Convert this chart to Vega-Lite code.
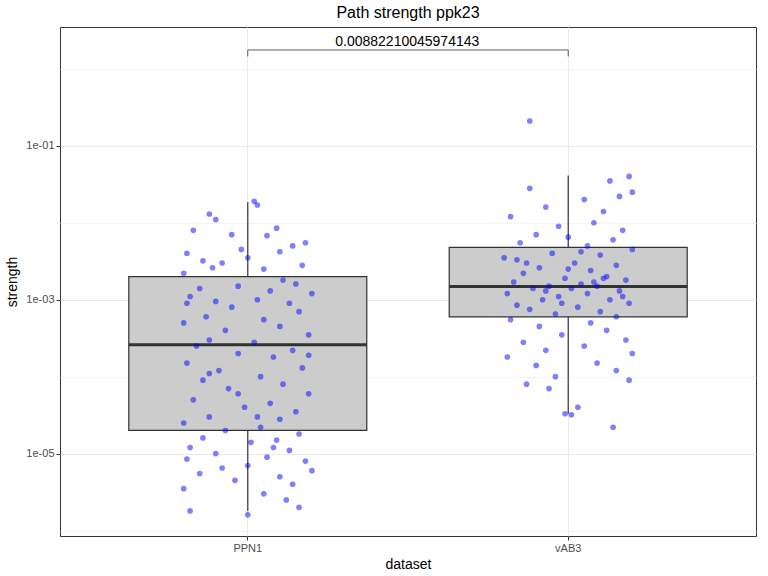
{
  "$schema": "https://vega.github.io/schema/vega-lite/v6.json",
  "width": 768,
  "height": 576,
  "autosize": {"type": "fit", "contains": "padding"},
  "background": "white",
  "padding": {"left": 5, "right": 12, "top": 5, "bottom": 5},
  "title": {"text": "Path strength ppk23", "fontSize": 16, "font": "Liberation Sans", "fontWeight": "normal", "color": "black", "anchor": "middle", "offset": 6},
  "config": {
    "font": "Liberation Sans",
    "view": {"stroke": "#333333", "strokeWidth": 1},
    "axis": {"labelColor": "#4d4d4d", "labelFontSize": 11, "titleFontSize": 14, "titleFontWeight": "normal", "titleColor": "black", "tickColor": "#333333", "tickSize": 4, "domain": false, "gridColor": "#ebebeb"}
  },
  "datasets": {
    "stats": [
      {"dataset": "PPN1", "lo": 0.0000018, "q1": 0.00002, "med": 0.00026, "q3": 0.002, "hi": 0.0186},
      {"dataset": "vAB3", "lo": 0.000033, "q1": 0.0006, "med": 0.00148, "q3": 0.0048, "hi": 0.041}
    ],
    "sig": [
      {"dataset": "PPN1", "to": "vAB3", "ytop": 1.76, "ylo": 1.45, "label": "0.00882210045974143"},
      {"dataset": "vAB3", "to": "vAB3", "ytop": 1.76, "ylo": 1.45, "label": ""}
    ],
    "pts": [
      {"dataset":"PPN1","strength":0.019,"jitter":0.02},{"dataset":"PPN1","strength":0.017,"jitter":0.03},{"dataset":"PPN1","strength":0.013,"jitter":-0.12},{"dataset":"PPN1","strength":0.011,"jitter":-0.1},{"dataset":"PPN1","strength":0.008,"jitter":-0.17},{"dataset":"PPN1","strength":0.0085,"jitter":0.09},{"dataset":"PPN1","strength":0.007,"jitter":-0.05},{"dataset":"PPN1","strength":0.0068,"jitter":0.06},{"dataset":"PPN1","strength":0.0055,"jitter":0.18},{"dataset":"PPN1","strength":0.005,"jitter":0.14},{"dataset":"PPN1","strength":0.0045,"jitter":-0.02},{"dataset":"PPN1","strength":0.004,"jitter":-0.19},{"dataset":"PPN1","strength":0.0042,"jitter":0.1},{"dataset":"PPN1","strength":0.0035,"jitter":0.0},{"dataset":"PPN1","strength":0.003,"jitter":-0.08},{"dataset":"PPN1","strength":0.0028,"jitter":0.17},{"dataset":"PPN1","strength":0.0032,"jitter":-0.14},{"dataset":"PPN1","strength":0.0025,"jitter":0.05},{"dataset":"PPN1","strength":0.0022,"jitter":-0.2},{"dataset":"PPN1","strength":0.0018,"jitter":0.11},{"dataset":"PPN1","strength":0.0015,"jitter":-0.03},{"dataset":"PPN1","strength":0.0014,"jitter":-0.15},{"dataset":"PPN1","strength":0.0013,"jitter":0.07},{"dataset":"PPN1","strength":0.0012,"jitter":0.2},{"dataset":"PPN1","strength":0.0011,"jitter":-0.18},{"dataset":"PPN1","strength":0.001,"jitter":0.03},{"dataset":"PPN1","strength":0.00095,"jitter":-0.1},{"dataset":"PPN1","strength":0.0009,"jitter":0.13},{"dataset":"PPN1","strength":0.0008,"jitter":-0.05},{"dataset":"PPN1","strength":0.0007,"jitter":0.16},{"dataset":"PPN1","strength":0.0006,"jitter":-0.13},{"dataset":"PPN1","strength":0.00055,"jitter":0.05},{"dataset":"PPN1","strength":0.0005,"jitter":-0.2},{"dataset":"PPN1","strength":0.00045,"jitter":0.1},{"dataset":"PPN1","strength":0.0004,"jitter":-0.07},{"dataset":"PPN1","strength":0.00035,"jitter":0.19},{"dataset":"PPN1","strength":0.0003,"jitter":-0.12},{"dataset":"PPN1","strength":0.00028,"jitter":0.02},{"dataset":"PPN1","strength":0.00025,"jitter":-0.16},{"dataset":"PPN1","strength":0.00022,"jitter":0.14},{"dataset":"PPN1","strength":0.0002,"jitter":-0.03},{"dataset":"PPN1","strength":0.00018,"jitter":0.08},{"dataset":"PPN1","strength":0.00015,"jitter":-0.19},{"dataset":"PPN1","strength":0.00013,"jitter":0.17},{"dataset":"PPN1","strength":0.00012,"jitter":-0.09},{"dataset":"PPN1","strength":0.0001,"jitter":0.04},{"dataset":"PPN1","strength":0.00009,"jitter":-0.14},{"dataset":"PPN1","strength":0.00008,"jitter":0.11},{"dataset":"PPN1","strength":0.00007,"jitter":-0.06},{"dataset":"PPN1","strength":0.00006,"jitter":0.19},{"dataset":"PPN1","strength":0.00005,"jitter":-0.17},{"dataset":"PPN1","strength":0.000045,"jitter":0.07},{"dataset":"PPN1","strength":0.00004,"jitter":-0.01},{"dataset":"PPN1","strength":0.000035,"jitter":0.15},{"dataset":"PPN1","strength":0.00003,"jitter":-0.12},{"dataset":"PPN1","strength":0.000028,"jitter":0.1},{"dataset":"PPN1","strength":0.000025,"jitter":-0.2},{"dataset":"PPN1","strength":0.000022,"jitter":0.04},{"dataset":"PPN1","strength":0.00002,"jitter":-0.07},{"dataset":"PPN1","strength":0.000018,"jitter":0.16},{"dataset":"PPN1","strength":0.000016,"jitter":-0.14},{"dataset":"PPN1","strength":0.000015,"jitter":0.09},{"dataset":"PPN1","strength":0.000014,"jitter":0.01},{"dataset":"PPN1","strength":0.000012,"jitter":-0.18},{"dataset":"PPN1","strength":0.000011,"jitter":0.13},{"dataset":"PPN1","strength":0.00001,"jitter":-0.1},{"dataset":"PPN1","strength":0.000009,"jitter":0.06},{"dataset":"PPN1","strength":0.0000085,"jitter":-0.19},{"dataset":"PPN1","strength":0.000008,"jitter":0.18},{"dataset":"PPN1","strength":0.000007,"jitter":0.0},{"dataset":"PPN1","strength":0.0000065,"jitter":-0.08},{"dataset":"PPN1","strength":0.000006,"jitter":0.2},{"dataset":"PPN1","strength":0.0000055,"jitter":-0.15},{"dataset":"PPN1","strength":0.000005,"jitter":0.1},{"dataset":"PPN1","strength":0.0000045,"jitter":-0.04},{"dataset":"PPN1","strength":0.000004,"jitter":0.14},{"dataset":"PPN1","strength":0.0000035,"jitter":-0.2},{"dataset":"PPN1","strength":0.000003,"jitter":0.05},{"dataset":"PPN1","strength":0.0000025,"jitter":0.12},{"dataset":"PPN1","strength":0.000002,"jitter":0.16},{"dataset":"PPN1","strength":0.0000018,"jitter":-0.18},{"dataset":"PPN1","strength":0.0000016,"jitter":0.0},{"dataset":"PPN1","strength":0.0016,"jitter":0.15},{"dataset":"PPN1","strength":0.0009,"jitter":-0.19},{"dataset":"PPN1","strength":0.00019,"jitter":0.19},{"dataset":"PPN1","strength":0.00006,"jitter":-0.03},{"dataset":"PPN1","strength":0.00003,"jitter":0.03},{"dataset":"PPN1","strength":0.000012,"jitter":0.08},{"dataset":"PPN1","strength":0.0026,"jitter":-0.11},{"dataset":"PPN1","strength":0.00011,"jitter":-0.12},
      {"dataset":"vAB3","strength":0.21,"jitter":-0.12},{"dataset":"vAB3","strength":0.04,"jitter":0.19},{"dataset":"vAB3","strength":0.035,"jitter":0.13},{"dataset":"vAB3","strength":0.028,"jitter":-0.12},{"dataset":"vAB3","strength":0.025,"jitter":0.2},{"dataset":"vAB3","strength":0.022,"jitter":0.16},{"dataset":"vAB3","strength":0.02,"jitter":0.05},{"dataset":"vAB3","strength":0.016,"jitter":-0.07},{"dataset":"vAB3","strength":0.014,"jitter":0.11},{"dataset":"vAB3","strength":0.012,"jitter":-0.18},{"dataset":"vAB3","strength":0.01,"jitter":0.08},{"dataset":"vAB3","strength":0.009,"jitter":-0.03},{"dataset":"vAB3","strength":0.008,"jitter":0.17},{"dataset":"vAB3","strength":0.007,"jitter":-0.1},{"dataset":"vAB3","strength":0.0065,"jitter":0.0},{"dataset":"vAB3","strength":0.006,"jitter":0.14},{"dataset":"vAB3","strength":0.0055,"jitter":-0.15},{"dataset":"vAB3","strength":0.005,"jitter":0.06},{"dataset":"vAB3","strength":0.0045,"jitter":0.2},{"dataset":"vAB3","strength":0.004,"jitter":-0.05},{"dataset":"vAB3","strength":0.0038,"jitter":0.1},{"dataset":"vAB3","strength":0.0035,"jitter":-0.2},{"dataset":"vAB3","strength":0.003,"jitter":0.02},{"dataset":"vAB3","strength":0.0028,"jitter":0.15},{"dataset":"vAB3","strength":0.0026,"jitter":-0.09},{"dataset":"vAB3","strength":0.0024,"jitter":0.07},{"dataset":"vAB3","strength":0.0022,"jitter":-0.14},{"dataset":"vAB3","strength":0.002,"jitter":0.12},{"dataset":"vAB3","strength":0.0019,"jitter":-0.01},{"dataset":"vAB3","strength":0.0018,"jitter":0.18},{"dataset":"vAB3","strength":0.0017,"jitter":-0.17},{"dataset":"vAB3","strength":0.0016,"jitter":0.04},{"dataset":"vAB3","strength":0.0015,"jitter":-0.06},{"dataset":"vAB3","strength":0.0015,"jitter":0.09},{"dataset":"vAB3","strength":0.0014,"jitter":0.01},{"dataset":"vAB3","strength":0.0014,"jitter":-0.11},{"dataset":"vAB3","strength":0.0013,"jitter":0.16},{"dataset":"vAB3","strength":0.0012,"jitter":-0.19},{"dataset":"vAB3","strength":0.0012,"jitter":0.06},{"dataset":"vAB3","strength":0.0011,"jitter":-0.03},{"dataset":"vAB3","strength":0.001,"jitter":0.13},{"dataset":"vAB3","strength":0.001,"jitter":-0.08},{"dataset":"vAB3","strength":0.0009,"jitter":0.19},{"dataset":"vAB3","strength":0.00085,"jitter":-0.16},{"dataset":"vAB3","strength":0.0008,"jitter":0.03},{"dataset":"vAB3","strength":0.00075,"jitter":-0.12},{"dataset":"vAB3","strength":0.0007,"jitter":0.1},{"dataset":"vAB3","strength":0.00065,"jitter":-0.04},{"dataset":"vAB3","strength":0.0006,"jitter":0.15},{"dataset":"vAB3","strength":0.00055,"jitter":-0.18},{"dataset":"vAB3","strength":0.0005,"jitter":0.07},{"dataset":"vAB3","strength":0.00045,"jitter":-0.09},{"dataset":"vAB3","strength":0.0004,"jitter":0.12},{"dataset":"vAB3","strength":0.00035,"jitter":-0.02},{"dataset":"vAB3","strength":0.0003,"jitter":0.18},{"dataset":"vAB3","strength":0.00028,"jitter":-0.14},{"dataset":"vAB3","strength":0.00025,"jitter":0.05},{"dataset":"vAB3","strength":0.00022,"jitter":-0.07},{"dataset":"vAB3","strength":0.0002,"jitter":0.2},{"dataset":"vAB3","strength":0.00018,"jitter":-0.19},{"dataset":"vAB3","strength":0.00015,"jitter":0.09},{"dataset":"vAB3","strength":0.00014,"jitter":-0.1},{"dataset":"vAB3","strength":0.00012,"jitter":0.15},{"dataset":"vAB3","strength":0.0001,"jitter":-0.04},{"dataset":"vAB3","strength":0.00009,"jitter":0.19},{"dataset":"vAB3","strength":0.00008,"jitter":-0.13},{"dataset":"vAB3","strength":0.00007,"jitter":-0.06},{"dataset":"vAB3","strength":0.00004,"jitter":0.03},{"dataset":"vAB3","strength":0.000033,"jitter":-0.01},{"dataset":"vAB3","strength":0.000032,"jitter":0.01},{"dataset":"vAB3","strength":0.000022,"jitter":0.14},{"dataset":"vAB3","strength":0.0025,"jitter":0.0},{"dataset":"vAB3","strength":0.0017,"jitter":0.08},{"dataset":"vAB3","strength":0.003,"jitter":-0.13},{"dataset":"vAB3","strength":0.0042,"jitter":0.04},{"dataset":"vAB3","strength":0.0009,"jitter":-0.02},{"dataset":"vAB3","strength":0.0019,"jitter":0.11},{"dataset":"vAB3","strength":0.0033,"jitter":-0.16},{"dataset":"vAB3","strength":0.0011,"jitter":0.17},{"dataset":"vAB3","strength":0.0013,"jitter":-0.07}
    ]
  },
  "encoding": {
    "x": {"field": "dataset", "type": "nominal", "title": "dataset",
      "scale": {"paddingInner": 0, "paddingOuter": 0.086},
      "axis": {"labelAngle": 0, "grid": true, "bandPosition": 0.5, "gridColor": "#ebebeb", "titlePadding": 4}}
  },
  "layer": [
    {
      "data": {"name": "stats"},
      "mark": {"type": "rule", "color": "#333333", "strokeWidth": 1.2},
      "encoding": {
        "y": {"field": "lo", "type": "quantitative", "title": "strength",
          "scale": {"type": "log", "domain": [8.5e-7, 3.5], "nice": false},
          "axis": {
            "values": [1e-6, 1e-5, 1e-4, 1e-3, 1e-2, 1e-1, 1],
            "labelExpr": "round(log(datum.value)/LN10) % 2 != 0 ? replace(format(datum.value, '.0e'), 'e-', 'e-0') : ''",
            "tickOpacity": {"condition": {"test": "round(log(datum.value)/LN10) % 2 != 0", "value": 1}, "value": 0},
            "gridColor": {"condition": {"test": "round(log(datum.value)/LN10) % 2 != 0", "value": "#ebebeb"}, "value": "#f4f4f4"},
            "grid": true, "titlePadding": 6}},
        "y2": {"field": "hi"}
      }
    },
    {
      "data": {"name": "stats"},
      "mark": {"type": "bar", "width": 238, "fill": "#cccccc", "stroke": "#333333", "strokeWidth": 1.2},
      "encoding": {"y": {"field": "q1", "type": "quantitative"}, "y2": {"field": "q3"}}
    },
    {
      "data": {"name": "stats"},
      "mark": {"type": "tick", "size": 238, "thickness": 3, "color": "#333333", "opacity": 1},
      "encoding": {"y": {"field": "med", "type": "quantitative"}}
    },
    {
      "data": {"name": "pts"},
      "mark": {"type": "circle", "color": "blue", "opacity": 0.5, "size": 32},
      "encoding": {
        "xOffset": {"field": "jitter", "type": "quantitative", "scale": {"domain": [-0.5, 0.5]}},
        "y": {"field": "strength", "type": "quantitative"}
      }
    },
    {
      "data": {"name": "sig"},
      "mark": {"type": "rule", "color": "#333333", "strokeWidth": 0.8},
      "encoding": {"y": {"field": "ylo", "type": "quantitative"}, "y2": {"field": "ytop"}}
    },
    {
      "data": {"name": "sig"},
      "transform": [{"filter": "datum.label != ''"}],
      "mark": {"type": "rule", "color": "#333333", "strokeWidth": 0.8},
      "encoding": {"x2": {"field": "to"}, "y": {"field": "ytop", "type": "quantitative"}}
    },
    {
      "data": {"name": "sig"},
      "transform": [{"filter": "datum.label != ''"}],
      "mark": {"type": "text", "dx": 159.5, "dy": -8, "fontSize": 14, "color": "black"},
      "encoding": {"y": {"field": "ytop", "type": "quantitative"}, "text": {"field": "label"}}
    }
  ]
}
